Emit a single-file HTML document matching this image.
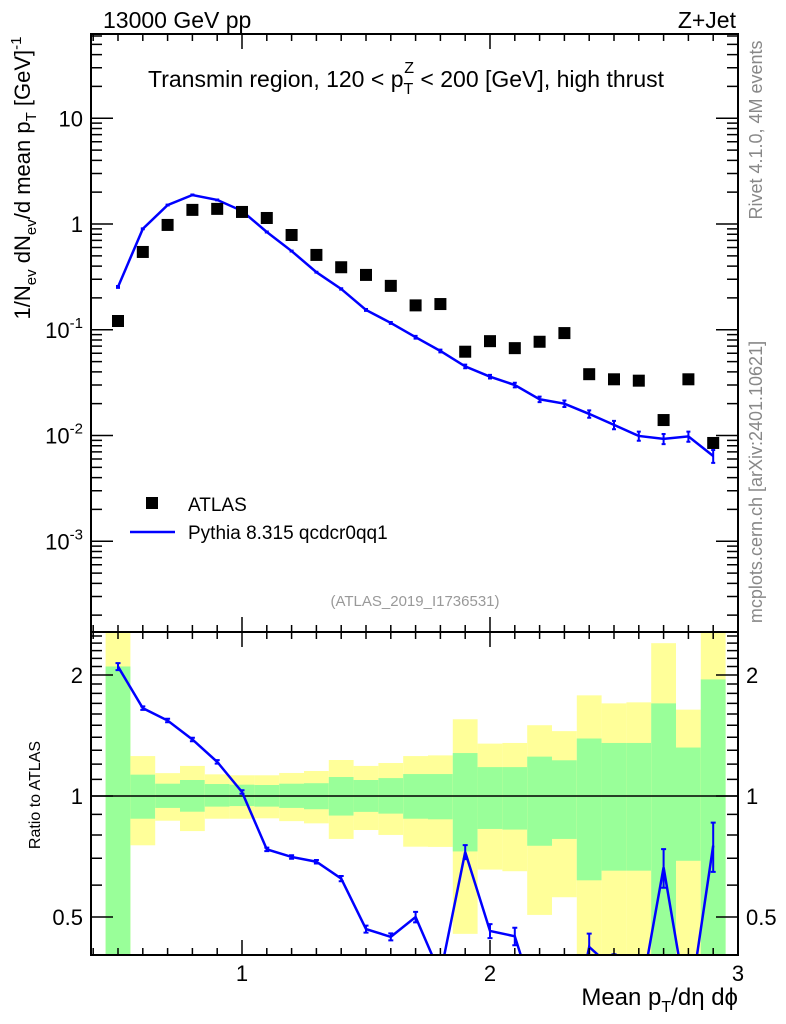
<!DOCTYPE html>
<html><head><meta charset="utf-8"><style>
html,body{margin:0;padding:0;background:#fff;}
svg{display:block;font-family:"Liberation Sans",sans-serif;}
</style></head><body>
<svg id="chart" width="786" height="1024" viewBox="0 0 786 1024" xmlns="http://www.w3.org/2000/svg">
<g id="bands"></g>
<g id="marks"></g>
<g id="axes"></g>
<text x="103" y="28" font-size="23">13000 GeV pp</text>
<text x="736" y="28" font-size="23" text-anchor="end">Z+Jet</text>
<text x="148" y="87" font-size="23">Transmin region, 120 &lt; p<tspan font-size="16" dy="7">T</tspan><tspan font-size="16" dx="-9" dy="-21">Z</tspan><tspan dy="14"> &lt; 200 [GeV], high thrust</tspan></text>
<text transform="translate(762,130) rotate(-90)" font-size="18" fill="#888" text-anchor="middle">Rivet 4.1.0,  4M events</text>
<text transform="translate(762,482) rotate(-90)" font-size="18" fill="#888" text-anchor="middle">mcplots.cern.ch [arXiv:2401.10621]</text>
<text x="415" y="606" font-size="15" fill="#999" text-anchor="middle">(ATLAS_2019_I1736531)</text>
<text transform="translate(30,178) rotate(-90)" font-size="22" text-anchor="middle">1/N<tspan font-size="15" dy="6">ev</tspan><tspan dy="-6"> dN</tspan><tspan font-size="15" dy="6">ev</tspan><tspan dy="-6">/d mean p</tspan><tspan font-size="15" dy="6">T</tspan><tspan dy="-6"> [GeV]</tspan><tspan font-size="15" dy="-9">-1</tspan></text>
<text transform="translate(40,795) rotate(-90)" font-size="16" text-anchor="middle">Ratio to ATLAS</text>
<text x="738" y="1005" font-size="24" text-anchor="end">Mean p<tspan font-size="16" dy="7">T</tspan><tspan dy="-7">/dη dϕ</tspan></text>
<g>
<rect x="146" y="497" width="12" height="12" fill="#000"/>
<text x="188" y="511" font-size="19">ATLAS</text>
<line x1="130" y1="532" x2="175" y2="532" stroke="#0000ff" stroke-width="2.5"/>
<text x="188" y="539" font-size="19">Pythia 8.315 qcdcr0qq1</text>
</g>
</svg>
<script>
const xCenters=[0.5,0.6,0.7,0.8,0.9,1.0,1.1,1.2,1.3,1.4,1.5,1.6,1.7,1.8,1.9,2.0,2.1,2.2,2.3,2.4,2.5,2.6,2.7,2.8,2.9];
const atlasVals=[0.121,0.544,0.98,1.36,1.39,1.30,1.14,0.787,0.51,0.39,0.33,0.26,0.17,0.175,0.062,0.078,0.067,0.077,0.093,0.038,0.034,0.033,0.014,0.034,0.0085];
const mcVals=[0.254,0.90,1.51,1.88,1.69,1.33,0.84,0.555,0.35,0.243,0.154,0.116,0.085,0.063,0.045,0.036,0.030,0.022,0.020,0.016,0.0126,0.0099,0.0093,0.0098,0.0064];
const mcRelErr=[0.02,0.01,0.01,0.01,0.01,0.01,0.01,0.01,0.01,0.015,0.02,0.02,0.03,0.03,0.04,0.04,0.05,0.06,0.07,0.08,0.09,0.10,0.11,0.11,0.14];
const yellowUp=[2.7,1.257,1.14,1.188,1.132,1.126,1.126,1.141,1.154,1.229,1.188,1.208,1.257,1.262,1.552,1.35,1.355,1.50,1.45,1.78,1.70,1.71,2.40,1.64,2.7];
const greenUp=[2.10,1.13,1.073,1.096,1.071,1.067,1.065,1.073,1.076,1.115,1.096,1.108,1.134,1.134,1.279,1.18,1.18,1.253,1.227,1.39,1.355,1.355,1.70,1.32,1.95];
const greenDn=[0.3,0.878,0.934,0.914,0.941,0.944,0.941,0.934,0.927,0.894,0.913,0.904,0.878,0.875,0.728,0.828,0.825,0.752,0.782,0.617,0.652,0.652,0.3,0.69,0.3];
const yellowDn=[0.3,0.754,0.868,0.818,0.878,0.878,0.88,0.866,0.855,0.782,0.823,0.80,0.748,0.747,0.454,0.656,0.65,0.506,0.56,0.3,0.3,0.3,0.3,0.3,0.3];
const mainTicks=["10^-3","10^-2","10^-1","1","10"];
const ratioTicks=[0.5,1,2];
const xTicks=[1,2,3];

const NS="http://www.w3.org/2000/svg";
const L=91,R=738,T=34,MB=632,RB=955;
const X=v=>242+(v-1)*248;
const Ymain=v=>224-Math.log10(v)*105.75;
const Yrat=v=>796-Math.log2(v)*121;
function mk(tag,attrs,parent){const e=document.createElementNS(NS,tag);for(const k in attrs)e.setAttribute(k,attrs[k]);parent.appendChild(e);return e;}
const bands=document.getElementById('bands'),marks=document.getElementById('marks'),axes=document.getElementById('axes');
const yClip=y=>Math.min(Math.max(y,MB),RB);

xCenters.forEach((c,i)=>{
  const x0=X(c-0.05),x1=X(c+0.05);
  const y1=yClip(Yrat(yellowUp[i])),y2=yClip(Yrat(yellowDn[i]));
  const ry=mk('rect',{x:x0,y:y1,width:x1-x0,height:y2-y1,fill:'#ffff99'},bands);
  
  
  const g1=yClip(Yrat(greenUp[i])),g2=yClip(Yrat(greenDn[i]));
  const rg=mk('rect',{x:x0,y:g1,width:x1-x0,height:g2-g1,fill:'#99ff99'},bands);
  
  
});
const ln=mk('line',{x1:L,y1:Yrat(1),x2:R,y2:Yrat(1),stroke:'#000','stroke-width':1.5},bands);



let pts=xCenters.map((c,i)=>X(c)+','+Ymain(mcVals[i])).join(' ');
const pl=mk('polyline',{points:pts,fill:'none',stroke:'#0000ff','stroke-width':2.5},marks);


xCenters.forEach((c,i)=>{
  const x=X(c),ya=Ymain(mcVals[i]*(1+mcRelErr[i])),yb=Ymain(mcVals[i]*(1-mcRelErr[i]));
  const e=mk('path',{d:`M${x},${ya}V${yb}M${x-2},${ya}h4M${x-2},${yb}h4`,stroke:'#0000ff','stroke-width':2,fill:'none'},marks);
  
  
});
xCenters.forEach((c,i)=>{
  const r=mk('rect',{x:X(c)-6,y:Ymain(atlasVals[i])-6,width:12,height:12,fill:'#000'},marks);
  
  
});
const cp=mk('clipPath',{id:'rc'},marks);mk('rect',{x:L,y:MB,width:R-L,height:RB-MB},cp);
const rg=mk('g',{'clip-path':'url(#rc)'},marks);
const ratios=xCenters.map((c,i)=>mcVals[i]/atlasVals[i]);
pts=xCenters.map((c,i)=>X(c)+','+Yrat(Math.max(ratios[i],0.2))).join(' ');
const rl=mk('polyline',{points:pts,fill:'none',stroke:'#0000ff','stroke-width':2.5},rg);


xCenters.forEach((c,i)=>{
  const r=ratios[i];if(r<0.36)return;
  const x=X(c),ya=Yrat(r*(1+mcRelErr[i])),yb=Yrat(r*(1-mcRelErr[i]));
  const e=mk('path',{d:`M${x},${ya}V${yb}M${x-2.5},${ya}h5M${x-2.5},${yb}h5`,stroke:'#0000ff','stroke-width':2,fill:'none'},rg);
  
  
});

[[T,MB],[MB,RB]].forEach(([a,b])=>{
  const f=mk('rect',{x:L,y:a,width:R-L,height:b-a,fill:'none',stroke:'#000','stroke-width':2},axes);
  
  
});
let d='';
for(let k=4;k<=29;k++){const v=k/10,x=X(v),maj=(k%10==0);const len=maj?15:7;if(x<L)continue;
  d+=`M${x},${T}v${len}M${x},${MB}v${-len}M${x},${MB}v${len}M${x},${RB}v${-len}`;}
for(let e=-4;e<=1;e++){for(let m=1;m<=9;m++){const v=m*Math.pow(10,e);const y=Ymain(v);if(y<T||y>MB)continue;const len=m==1?22:11;d+=`M${L},${y}h${len}M${R},${y}h${-len}`;}}
[0.4,0.5,0.6,0.7,0.8,0.9,1,1.1,1.2,1.3,1.4,1.5,1.6,1.7,1.8,1.9,2,2.1,2.2,2.3,2.4,2.5].forEach(v=>{const y=Yrat(v);if(y<MB||y>RB)return;const maj=ratioTicks.includes(v);const len=maj?22:11;d+=`M${L},${y}h${len}M${R},${y}h${-len}`;});
const tk=mk('path',{d:d,stroke:'#000','stroke-width':1.5,fill:'none'},axes);


mainTicks.forEach((s,i)=>{
  const e=i-3;const y=Ymain(Math.pow(10,e));
  const t=mk('text',{x:L-8,y:y+8,'font-size':22,'text-anchor':'end'},axes);
  if(s.startsWith('10^')){t.textContent='10';const sp=mk('tspan',{'font-size':15,dy:-10},t);sp.textContent=String(e);}
  else t.textContent=s;
  
  
});
ratioTicks.forEach(v=>{
  const y=Yrat(v);
  [[L-8,'end'],[R+8,'start']].forEach(([x,a])=>{
    const t=mk('text',{x:x,y:y+8,'font-size':22,'text-anchor':a},axes);t.textContent=String(v);
    
    
  });
});
xTicks.forEach(v=>{
  const t=mk('text',{x:X(v),y:RB+26,'font-size':22,'text-anchor':'middle'},axes);t.textContent=String(v);
  
  
});
</script>
</body></html>
